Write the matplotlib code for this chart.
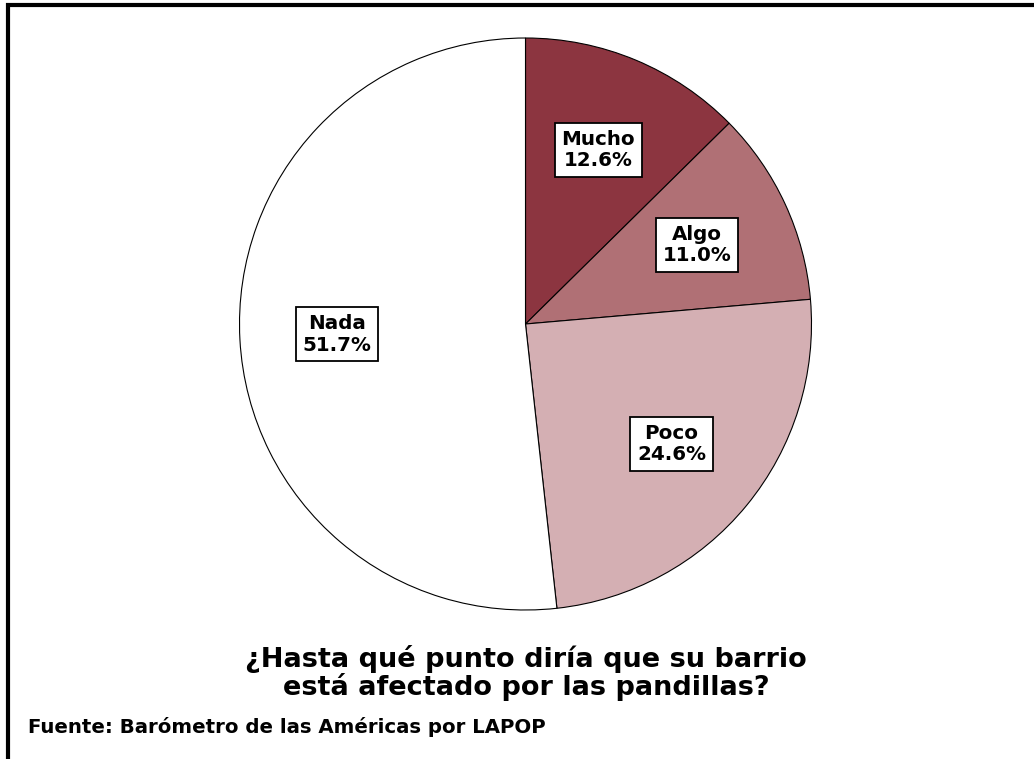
import matplotlib
matplotlib.use('Agg')
import matplotlib.pyplot as plt

# datos de la encuesta
categorias = ['Mucho', 'Algo', 'Poco', 'Nada']
porcentajes = [12.6, 11.0, 24.6, 51.7]
colores = ['#8c3540', '#b07075', '#d4afb3', '#ffffff']

titulo = '¿Hasta qué punto diría que su barrio\nestá afectado por las pandillas?'
fuente = 'Fuente: Barómetro de las Américas por LAPOP'

W, H = 1034, 759
fig = plt.figure(figsize=(W / 100, H / 100), dpi=100)
ax = fig.add_axes([0, 0, 1, 1])

etiquetas = [f'{c}\n{v:.1f}%' for c, v in zip(categorias, porcentajes)]
wedges, textos = ax.pie(
    porcentajes, labels=etiquetas, colors=colores, startangle=90,
    counterclock=False, radius=286, center=(525.5, H - 324),
    labeldistance=0.66,
    wedgeprops=dict(edgecolor='black', linewidth=0.8),
    textprops=dict(fontsize=14.3, fontweight='bold', family='DejaVu Sans',
                   linespacing=1.15),
)
for t in textos:
    t.set_ha('center')
    t.set_va('center')
    t.set_bbox(dict(boxstyle='square,pad=0.35', facecolor='white',
                    edgecolor='black', linewidth=1.3))

ax.set_xlim(0, W)
ax.set_ylim(0, H)
ax.set_aspect('equal')
ax.axis('off')

# marco superior e izquierdo
ax.plot([8, 8, W], [0, H - 5, H - 5], color='black', linewidth=3,
        solid_capstyle='butt', solid_joinstyle='miter', clip_on=False)

ax.text(526, H - 673, titulo, ha='center', va='center', fontsize=19.5,
        fontweight='bold', family='DejaVu Sans', linespacing=1.0)
ax.text(28, H - 727, fuente, ha='left', va='center', fontsize=14.2,
        fontweight='bold', family='DejaVu Sans')

fig.savefig('out.png', dpi=100)
